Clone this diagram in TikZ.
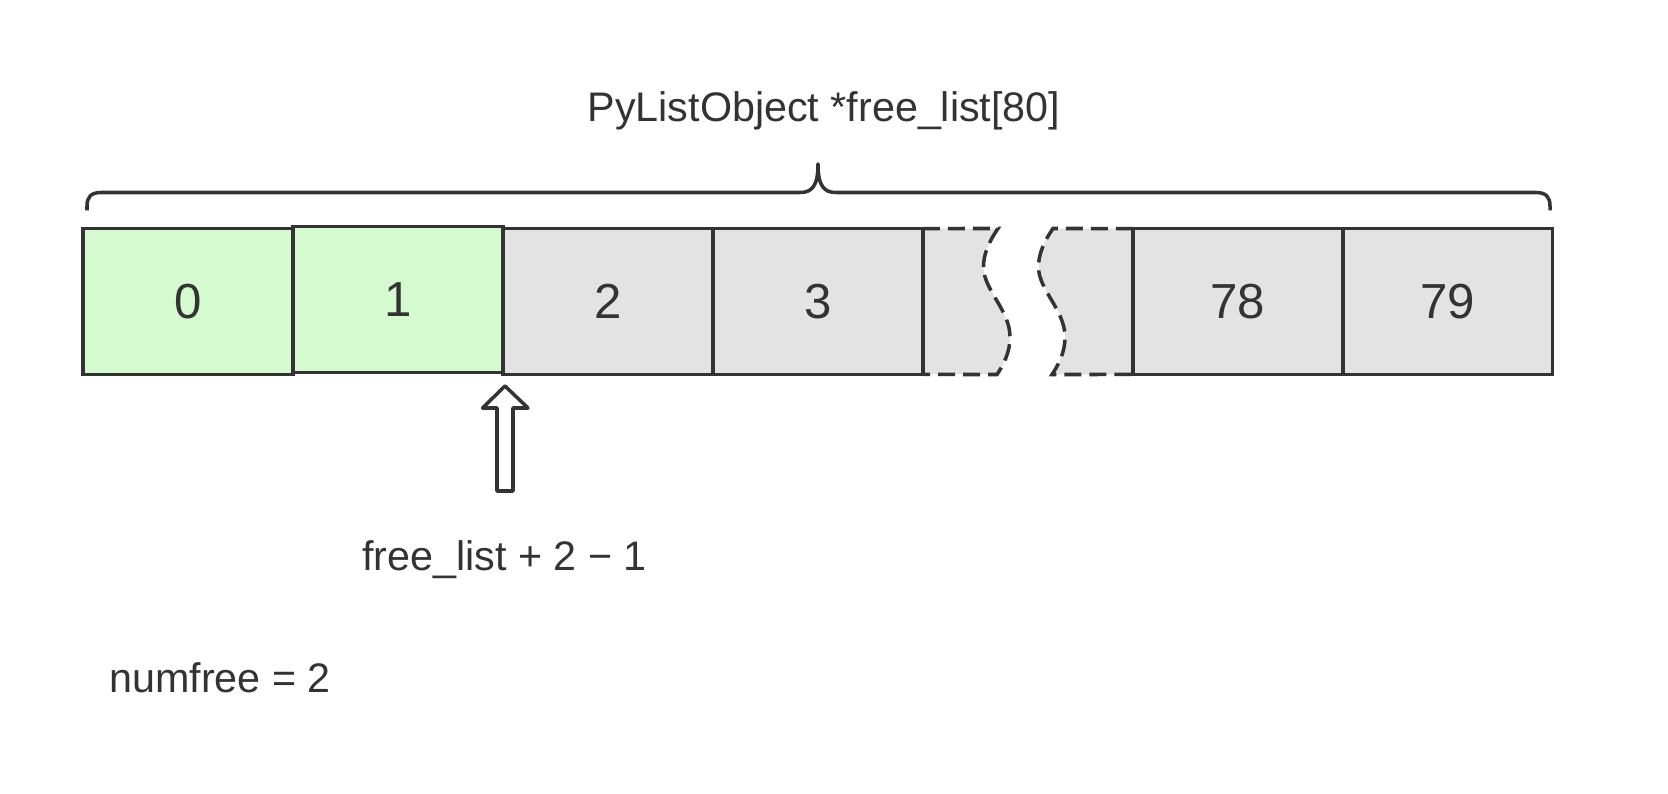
\documentclass[tikz,border=0pt]{standalone}
\usepackage{fontspec}
\setmainfont{Liberation Sans}
\usepackage{xcolor}
\definecolor{inkgray}{HTML}{333333}
\definecolor{freegreen}{HTML}{D5FAD0}
\definecolor{cellgray}{HTML}{E3E3E3}
\usepackage{tikz}
\usetikzlibrary{positioning,backgrounds}
\tikzset{
  slot/.style    ={rectangle, draw=inkgray, line width=2pt, fill=cellgray,
                   minimum width=4.2cm, minimum height=2.92cm, inner sep=0pt,
                   outer sep=0pt, anchor=west, text=inkgray,
                   font=\fontsize{28}{30}\selectfont},
  freeslot/.style={slot, fill=freegreen},
  gapline/.style ={draw=inkgray, line width=2pt, dash pattern=on 0.34cm off 0.16cm},
  solid3/.style  ={draw=inkgray, line width=2pt, line join=round},
  lbl/.style     ={text=inkgray, inner sep=0pt, anchor=base,
                   font=\fontsize{23.5}{28}\selectfont},
}

\begin{document}
\begin{tikzpicture}[x=0.02cm, y=-0.02cm]
  \useasboundingbox (0,0) rectangle (1668,794);

  % the array cells
  \node[freeslot] (s0) at (83,301.5) {0};
  \node[freeslot, right=0mm of s0, yshift=0.04cm] (s1) {1};
  \node[slot, right=4.2cm of s0] (s2) {2};
  \node[slot, right=0mm of s2] (s3) {3};
  \node[slot, right=4.2cm of s3] (s78) {78};
  \node[slot, right=0mm of s78] (s79) {79};

  % torn gap between 3 and 78
  \begin{scope}[on background layer]
    \fill[cellgray] (s3.north east) -- (998,228.5)
      .. controls (988,243) and (983.5,255) .. (983.5,267)
      .. controls (983.5,290) and (1010,310) .. (1010,337)
      .. controls (1010,352) and (1004,364) .. (997,374.5) -- (s3.south east) -- cycle;
    \fill[cellgray] (s78.north west) -- (1053,228.5)
      .. controls (1043,243) and (1038.5,255) .. (1038.5,267)
      .. controls (1038.5,290) and (1065,310) .. (1065,337)
      .. controls (1065,352) and (1059,364) .. (1052,374.5) -- (s78.south west) -- cycle;
  \end{scope}
  \draw[gapline] (s3.north east) -- (998,228.5)
    .. controls (988,243) and (983.5,255) .. (983.5,267)
    .. controls (983.5,290) and (1010,310) .. (1010,337)
    .. controls (1010,352) and (1004,364) .. (997,374.5) -- (s3.south east);
  \draw[gapline] (s78.north west) -- (1053,228.5)
    .. controls (1043,243) and (1038.5,255) .. (1038.5,267)
    .. controls (1038.5,290) and (1065,310) .. (1065,337)
    .. controls (1065,352) and (1059,364) .. (1052,374.5) -- (s78.south west);

  % brace over the whole array
  \draw[solid3] (87,210.5) -- (87,206) .. controls (87,197) and (91,192.5) .. (101,192.5)
    -- (800,192.5) .. controls (812,192.5) and (818,186) .. (818,164)
    .. controls (818,186) and (824,192.5) .. (836,192.5)
    -- (1536,192.5) .. controls (1546,192.5) and (1550,197) .. (1550,206) -- (1550,210.5);
  \node[lbl] (title) at (824,122) {PyListObject *free\_list[80]};

  % pointer to first free slot
  \draw[solid3, fill=white] (505,386) -- (528,408) -- (513,408) -- (513,491)
    -- (497,491) -- (497,408) -- (482.5,408) -- cycle;
  \node[lbl] (ptr) at (504.5,570) {free\_list + 2 − 1};

  \node[lbl, anchor=base west] (numfree) at (109,692) {numfree = 2};
\end{tikzpicture}
\end{document}
